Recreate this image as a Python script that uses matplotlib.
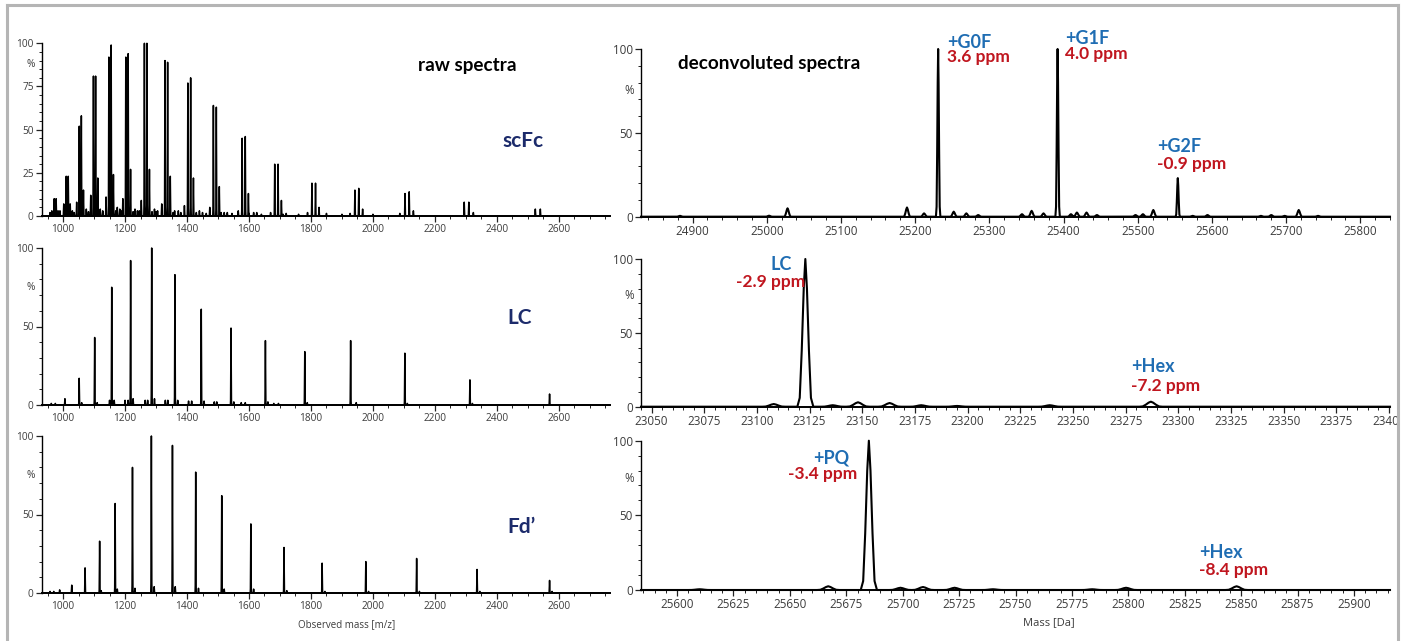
import numpy as np
import matplotlib
matplotlib.use("Agg")
import matplotlib.pyplot as plt
from matplotlib.ticker import MultipleLocator, FixedLocator
from matplotlib.lines import Line2D
from matplotlib.patches import Rectangle

W, H = 1403, 641

# ---------------- data ----------------
# raw spectra (m/z, relative intensity %)
scfc_mz = [971.4, 977.6, 1010.2, 1016.7, 1052.3, 1059.0, 1098.0, 1105.0,
           1147.8, 1155.2, 1202.4, 1210.1, 1262.5, 1270.6, 1328.9, 1337.4,
           1402.7, 1411.7, 1485.1, 1494.6, 1577.9, 1588.0, 1683.0, 1693.8,
           1803.1, 1814.7, 1941.8, 1954.2, 2103.5, 2117.0, 2294.6, 2309.4,
           2524.0, 2540.2,
           # +G2F series
           983.8, 1023.0, 1065.8, 1112.0, 1162.5, 1217.8, 1278.7, 1346.0,
           1420.7, 1504.2, 1598.1, 1704.6, 1826.0, 1966.7, 2130.5, 2324.0,
           # 25030 Da series
           963.7, 1002.2, 1043.9, 1089.3, 1138.7, 1192.9, 1252.5, 1318.4,
           1391.6, 1473.4, 1565.4, 1669.7, 1788.9, 1926.4, 2086.8,
           # baseline clutter
           958, 990, 1030, 1075, 1120, 1128, 1175, 1183, 1232, 1240, 1295,
           1305, 1360, 1372, 1440, 1450, 1520, 1530, 1615, 1625, 1720, 1850,
           1036, 1082, 1170, 1190, 1226, 1246, 1287, 1300, 1355, 1380, 1430,
           1462, 1510, 1545, 1600, 1640, 1710, 1760, 1900, 2000]
scfc_int = [10, 10, 23, 23, 52, 58, 81, 81,
            92, 99, 92, 94, 100, 100, 90, 89,
            77, 80, 64, 63, 45, 46, 30, 30,
            19, 19, 15, 16, 13, 14, 8, 8,
            4, 4,
            3, 7, 15, 22, 24, 27, 27, 23,
            22, 17, 13, 9, 5, 4, 3, 2,
            3, 7, 8, 12, 11, 10, 9, 7,
            6, 5, 3, 2, 2, 1.5, 1.5,
            2, 3, 3, 4, 4, 3, 5, 4, 4, 3, 4,
            3, 3, 3, 3, 2, 2, 2, 2, 2, 1.5, 1.5,
            2, 2.5, 3, 3, 2.5, 3, 2.5, 2.5, 2, 2, 2,
            1.5, 2, 1.5, 1.5, 1, 1, 1, 1, 1]

lc_mz = [1006, 1052, 1102, 1157, 1218, 1286, 1361, 1446, 1542, 1653, 1780,
         1928, 2103, 2313, 2570,
         962, 975, 1060, 1110, 1150, 1165, 1200, 1210, 1226, 1265, 1273,
         1295, 1330, 1338, 1370, 1405, 1415, 1455, 1488, 1496, 1551, 1575,
         1588, 1661, 1680, 1695, 1788, 1946, 2111, 2321]
lc_int = [4, 17, 43, 75, 92, 100, 83, 61, 49, 41, 34,
          41, 33, 16, 7,
          1, 1, 1.5, 1.5, 3, 3, 3, 3, 4, 3, 3,
          4, 3, 3, 3, 2.5, 2.5, 2.5, 2, 2, 2, 1.5,
          1.5, 2, 1, 1, 1.5, 1.5, 1, 1]

fd_mz = [989, 1028, 1071, 1118, 1168, 1224, 1285, 1353, 1428, 1512, 1606,
         1713, 1836, 1977, 2141, 2336, 2570,
         958, 970, 1123, 1175, 1232, 1294, 1362, 1437, 1520, 1615, 1722,
         1845, 1986, 2150, 2345, 2578]
fd_int = [2, 5, 16, 33, 57, 80, 100, 94, 77, 62, 44,
          29, 19, 20, 22, 15, 8,
          1, 1, 1.5, 2.5, 3, 4, 4, 3, 2.5, 2.5, 1.5,
          1, 1, 1, 1, 1]

# deconvoluted spectra (mass Da, relative intensity %)
scfc_da = [24883, 25003, 25028, 25189, 25212, 25231, 25252, 25269, 25285,
           25344, 25357, 25373, 25392, 25410, 25418, 25431, 25445, 25497,
           25507, 25521, 25554, 25574, 25594, 25666, 25680, 25698, 25717,
           25743]
scfc_da_int = [0.5, 0.6, 5, 5.5, 2, 100, 3, 2, 1,
               1.5, 3.5, 2, 100, 1.5, 2.5, 2.5, 1, 1,
               1.5, 4, 23, 0.5, 1, 0.5, 1, 0.5, 4,
               0.5]

lc_da = [23108, 23123, 23136, 23148, 23163, 23178, 23195, 23239, 23287]
lc_da_int = [1.8, 100, 1, 3, 2.5, 1, 0.5, 1, 3.4]

fd_da = [25610, 25667, 25685, 25699, 25709, 25723, 25740, 25784, 25799, 25848]
fd_da_int = [0.5, 2.5, 100, 1.5, 2, 1.5, 0.5, 0.5, 1.5, 2.5]

# peak labels: text, ppm text, left px, name y px, ppm y px
dec_labels = [
    ("+G0F", "3.6 ppm", 947, 42, 57),
    ("+G1F", "4.0 ppm", 1065, 38, 54),
    ("+G2F", "-0.9 ppm", 1157, 147, 164),
    ("LC", None, 770, 264, None),
    (None, "-2.9 ppm", 736, None, 282),
    ("+Hex", "-7.2 ppm", 1131, 366, 386),
    ("+PQ", None, 813, 458, None),
    (None, "-3.4 ppm", 788, None, 474),
    ("+Hex", "-8.4 ppm", 1199, 553, 570),
]

BLUE = "#1f6db3"
RED = "#c0161f"
NAVY = "#1c2b6b"
TICKC = "#3c3c3c"

# bell-like outline used to draw one peak (offsets in half-widths, height fraction)
SHAPE_DX = [-1.0, -0.7, -0.45, -0.2, 0.0, 0.2, 0.45, 0.7, 1.0]
SHAPE_FR = [0.0, 0.06, 0.38, 0.8, 1.0, 0.8, 0.38, 0.06, 0.0]


def profile(centers, heights, hw, hw_small, lo, hi):
    order = np.argsort(centers)
    xs, ys = [lo], [0]
    for i in order:
        c, h = centers[i], heights[i]
        w = hw if h >= 10 else hw_small
        xs += [c + d * w for d in SHAPE_DX]
        ys += [f * h for f in SHAPE_FR]
    xs.append(hi)
    ys.append(0)
    return xs, ys


def px_ax(x0, x1, y100, y0):
    return fig.add_axes([x0 / W, 1 - y0 / H, (x1 - x0) / W, (y0 - y100) / H])


def style(ax, xlim, major, minor, yticks, ymin, pct_y, fs):
    ax.set_xlim(*xlim)
    ax.set_ylim(0, 100)
    for s in ("top", "right"):
        ax.spines[s].set_visible(False)
    ax.spines["left"].set_bounds(0, 100)
    ax.spines["left"].set_linewidth(1.0)
    ax.spines["bottom"].set_linewidth(1.4)
    ax.xaxis.set_major_locator(MultipleLocator(major))
    ax.xaxis.set_minor_locator(MultipleLocator(minor))
    ax.yaxis.set_major_locator(FixedLocator(yticks))
    ax.yaxis.set_minor_locator(MultipleLocator(ymin))
    ax.tick_params(which="major", length=4, width=0.9, colors="#222222",
                   labelcolor=TICKC, labelsize=fs, pad=2)
    ax.tick_params(which="minor", length=2.2, width=0.7, colors="#222222")
    for lab in ax.get_xticklabels() + ax.get_yticklabels():
        lab.set_fontfamily("Open Sans")
    ax.annotate("%", xy=(0, pct_y), xycoords=("axes fraction", "data"),
                xytext=(-5, 0), textcoords="offset points", ha="right",
                va="center", fontsize=fs, color=TICKC, family="Open Sans")


fig = plt.figure(figsize=(W / 100, H / 100), dpi=100)

# ---------------- raw spectra ----------------
raw = [(scfc_mz, scfc_int, 43.3, 216, [0, 25, 50, 75, 100], 5, 87.5),
       (lc_mz, lc_int, 248, 405, [0, 50, 100], 10, 75),
       (fd_mz, fd_int, 436, 593, [0, 50, 100], 10, 75)]
raw_xlim = (932, 2765)
for mz, it, y100, y0, yt, ymn, py in raw:
    ax = px_ax(42, 610, y100, y0)
    xs, ys = profile(mz, it, 2.0, 2.0, *raw_xlim)
    ax.plot(xs, ys, color="black", lw=1.1, clip_on=False)
    style(ax, raw_xlim, 200, 50, yt, ymn, py, 7.3)

# ---------------- deconvoluted spectra ----------------
dec = [(scfc_da, scfc_da_int, 49, 216.7, (24830.5, 25840), 100, 20, 3.0, 5.0),
       (lc_da, lc_da_int, 259, 406.7, (23045, 23400.5), 25, 5, 3.8, 5.5),
       (fd_da, fd_da_int, 440.7, 590, (25584, 25916), 25, 5, 3.6, 5.0)]
for da, it, y100, y0, xl, mj, mn, hw, hws in dec:
    ax = px_ax(641, 1390, y100, y0)
    xs, ys = profile(da, it, hw, hws, *xl)
    ax.plot(xs, ys, color="black", lw=1.5, clip_on=False)
    style(ax, xl, mj, mn, [0, 50, 100], 10, 75, 8.4)

# ---------------- texts ----------------
def ftext(x, y, s, **kw):
    fig.text(x / W, 1 - y / H, s, **kw)

ftext(418, 65, "raw spectra", fontsize=13.6, weight="bold", family="Lato",
      va="center", ha="left", color="black")
ftext(678, 64, "deconvoluted spectra", fontsize=13.6, weight="bold",
      family="Lato", va="center", ha="left", color="black")
for s, x, y in [("scFc", 502, 141), ("LC", 507, 318), ("Fd\u2019", 507, 527)]:
    ftext(x, y, s, fontsize=15, weight="bold", family="Lato", color=NAVY,
          va="center", ha="left")

for name, ppm, x, yn, yp in dec_labels:
    if name:
        ftext(x, yn, name, fontsize=13, weight="bold", family="Lato",
              color=BLUE, va="center", ha="left")
    if ppm:
        ftext(x, yp, ppm, fontsize=12.5, weight="bold", family="Lato",
              color=RED, va="center", ha="left")

ftext(347, 625, "Observed mass [m/z]", fontsize=7, family="Open Sans",
      color=TICKC, ha="center", va="center")
ftext(1049, 623, "Mass [Da]", fontsize=8, family="Open Sans",
      color=TICKC, ha="center", va="center")

# outer frame (open at the bottom)
fig.add_artist(Rectangle((1398.5 / W, 0), 1 - 1398.5 / W, 1,
                         transform=fig.transFigure, color="white", zorder=50))
fc = "#b5b5b5"
fig.add_artist(Line2D([7 / W, 7 / W], [0, 1 - 5 / H], transform=fig.transFigure,
                      color=fc, lw=2.2, zorder=60))
fig.add_artist(Line2D([7 / W, 1398 / W], [1 - 5 / H, 1 - 5 / H],
                      transform=fig.transFigure, color=fc, lw=2.2, zorder=60))
fig.add_artist(Line2D([1398 / W, 1398 / W], [0, 1 - 5 / H],
                      transform=fig.transFigure, color=fc, lw=2.2, zorder=60))

fig.savefig("out.png", dpi=100)
